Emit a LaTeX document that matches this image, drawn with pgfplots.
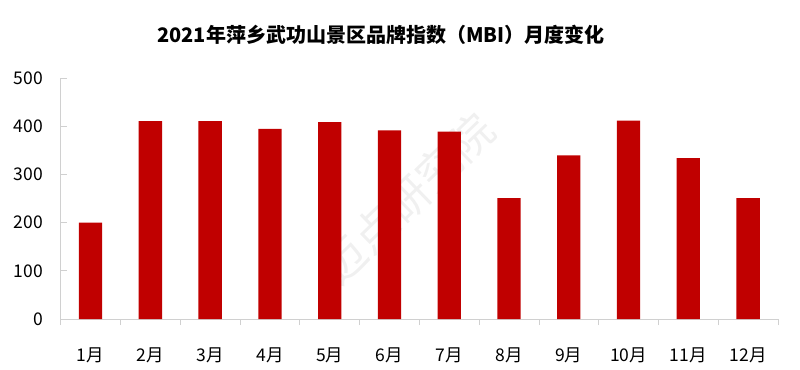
\documentclass[border=0pt]{standalone}
\usepackage{pgfplots}
\pgfplotsset{compat=1.18}
\usepackage{fontspec}
\setmainfont{Noto Sans CJK SC}
\definecolor{barred}{HTML}{C00000}
\definecolor{axgray}{HTML}{D0D0D0}
\begin{document}
\begin{tikzpicture}
\useasboundingbox (-60.7bp,-51bp) rectangle (739.3bp,319bp);
\begin{axis}[
  at={(0,0)}, anchor=south west,
  scale only axis,
  width=717.3bp, height=240.7bp,
  xmin=-0.5, xmax=11.5, ymin=0, ymax=500,
  axis x line*=bottom, axis y line*=left,
  axis line style={axgray, line width=0.8pt},
  ytick={0,100,...,500},
  xtick={0,...,11},
  xticklabels={1月,2月,3月,4月,5月,6月,7月,8月,9月,10月,11月,12月},
  minor xtick={-0.5,0.5,...,11.5},
  major x tick style={draw=none},
  minor x tick style={axgray, line width=0.8pt},
  minor tick length=6bp,
  y tick style={axgray, line width=0.8pt},
  major tick length=6bp,
  ytick align=inside,
  xtick align=outside,
  /pgf/number format/assume math mode=true,
  tick label style={font=\fontsize{17.5bp}{19bp}\selectfont, text=black, inner sep=0pt},
  xticklabel style={anchor=base, yshift=-36bp},
  yticklabel style={anchor=east, xshift=-17.5bp},
  ybar, bar width=23.3bp,
  clip=false,
]
\node[text=gray!12, rotate=44, font=\fontsize{44bp}{46bp}\selectfont] at (axis cs:5.3,250) {迈点研究院};
\addplot[fill=barred, draw=none] coordinates {
(0,200) (1,411) (2,411) (3,395) (4,409) (5,392) (6,389) (7,251) (8,340) (9,412) (10,334) (11,251)};
\end{axis}
\node[font=\bfseries\fontsize{20bp}{22bp}\selectfont] at (320.3bp,284bp) {2021年萍乡武功山景区品牌指数（MBI）月度变化};
\end{tikzpicture}
\end{document}
